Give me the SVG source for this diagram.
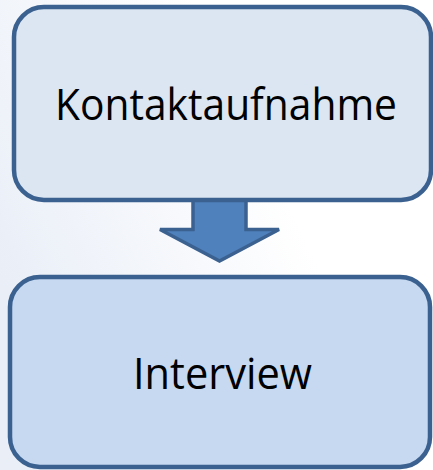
<svg xmlns="http://www.w3.org/2000/svg" width="433" height="470" viewBox="0 0 433 470">
  <defs>
    <linearGradient id="bg" x1="0" y1="0.6" x2="0.6" y2="0.3">
      <stop offset="0" stop-color="#e9eef7"/>
      <stop offset="1" stop-color="#ffffff"/>
    </linearGradient>
    <style>
      .box { stroke: #3b6190; stroke-width: 4.5; }
      .lbl { font-family: "Open Sans", "Noto Sans", "Liberation Sans", sans-serif; font-size: 43px; fill: #000000; text-anchor: middle; }
      .arrow { fill: #4f81bd; stroke: #3b6190; stroke-width: 3.5; stroke-linejoin: miter; }
    </style>
  </defs>
  <rect x="0" y="0" width="433" height="470" fill="url(#bg)"/>
  <g id="connectors">
    <polygon class="arrow" points="193,199 246,199 246,229.5 279,229.5 219.5,261 160,229.5 193,229.5"/>
  </g>
  <g id="node-kontaktaufnahme">
    <rect class="box" x="14" y="7" width="417" height="193" rx="30" ry="30" fill="#dce6f2"/>
    <text class="lbl" x="226" y="120" textLength="342" lengthAdjust="spacingAndGlyphs">Kontaktaufnahme</text>
  </g>
  <g id="node-interview">
    <rect class="box" x="10" y="277" width="420" height="190" rx="30" ry="30" fill="#c6d9f1"/>
    <text class="lbl" x="222.5" y="389" textLength="179" lengthAdjust="spacingAndGlyphs">Interview</text>
  </g>
</svg>
